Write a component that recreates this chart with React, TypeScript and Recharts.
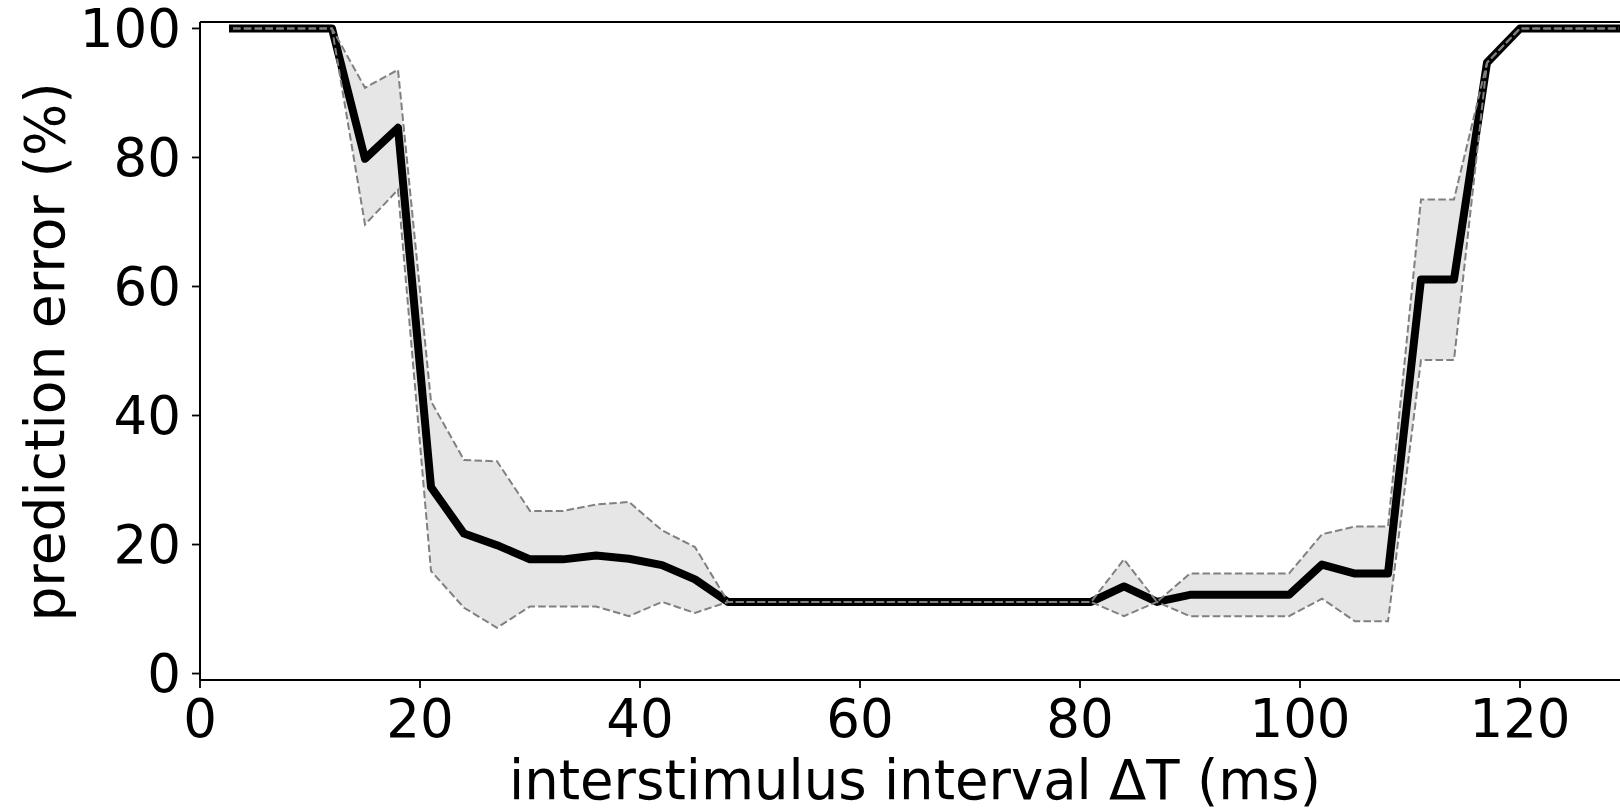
import { ComposedChart, Area, Line, XAxis, YAxis, ReferenceLine } from 'recharts'

// interstimulus interval (ms)
const intervals = [
  3, 6, 9, 12, 15, 18, 21, 24, 27, 30, 33, 36, 39, 42, 45, 48, 51, 54, 57, 60, 63, 66,
  69, 72, 75, 78, 81, 84, 87, 90, 93, 96, 99, 102, 105, 108, 111, 114, 117, 120, 123, 126, 129,
]

// mean prediction error (%)
const meanError = [
  100, 100, 100, 100, 79.8, 84.6, 28.9, 21.7, 19.9, 17.7, 17.7, 18.3, 17.8, 16.8, 14.6, 11.1,
  11.1, 11.1, 11.1, 11.1, 11.1, 11.1, 11.1, 11.1, 11.1, 11.1, 11.1, 13.5, 11.1, 12.2, 12.2,
  12.2, 12.2, 16.9, 15.5, 15.5, 61.1, 61.1, 94.7, 100, 100, 100, 100,
]

// upper edge of spread
const upperError = [
  100, 100, 100, 100, 90.8, 93.6, 42.2, 33.1, 32.9, 25.2, 25.2, 26.2, 26.6, 22.2, 19.6, 11.1,
  11.1, 11.1, 11.1, 11.1, 11.1, 11.1, 11.1, 11.1, 11.1, 11.1, 11.1, 17.7, 11.1, 15.5, 15.5,
  15.5, 15.5, 21.6, 22.8, 22.8, 73.5, 73.5, 94.7, 100, 100, 100, 100,
]

// lower edge of spread
const lowerError = [
  100, 100, 100, 100, 69.6, 75.0, 15.9, 10.2, 7.1, 10.4, 10.4, 10.4, 8.9, 11.1, 9.4, 11.1,
  11.1, 11.1, 11.1, 11.1, 11.1, 11.1, 11.1, 11.1, 11.1, 11.1, 11.1, 8.9, 11.1, 8.9, 8.9,
  8.9, 8.9, 11.6, 8.1, 8.1, 48.6, 48.6, 94.7, 100, 100, 100, 100,
]

const xTicks = [0, 20, 40, 60, 80, 100, 120]
const yTicks = [0, 20, 40, 60, 80, 100]

const data = intervals.map((x, i) => ({
  x,
  mean: meanError[i],
  upper: upperError[i],
  lower: lowerError[i],
  band: [lowerError[i], upperError[i]],
}))

const FONT = '"DejaVu Sans", sans-serif'
const tickStyle = { fill: '#000', fontSize: 53, fontFamily: FONT }

export default function App() {
  return (
    <div style={{ position: 'absolute', left: 0, top: 0, width: 1620, height: 809, overflow: 'hidden', background: '#fff' }}>
      <ComposedChart
        width={1640}
        height={809}
        data={data}
        margin={{ top: 22, right: 10, bottom: 0, left: 0 }}
      >
        <XAxis
          type="number"
          dataKey="x"
          domain={[0, 130]}
          ticks={xTicks}
          interval={0}
          height={129}
          tickSize={8}
          tickMargin={11}
          tick={tickStyle}
          axisLine={{ stroke: '#000', strokeWidth: 2 }}
          tickLine={{ stroke: '#000', strokeWidth: 1.8 }}
          label={{
            content: (props: any) => {
              const vb = props.viewBox
              return (
                <text x={vb.x + vb.width / 2} y={799} textAnchor="middle" fontSize={54.5} fontFamily={FONT} fill="#000">
                  interstimulus interval ΔT (ms)
                </text>
              )
            },
          }}
        />
        <YAxis
          type="number"
          domain={[-1, 101]}
          ticks={yTicks}
          interval={0}
          width={200}
          tickSize={8}
          tickMargin={11}
          tick={tickStyle}
          axisLine={{ stroke: '#000', strokeWidth: 2 }}
          tickLine={{ stroke: '#000', strokeWidth: 1.8 }}
          label={{
            content: (props: any) => {
              const vb = props.viewBox
              const cy = vb.y + vb.height / 2 + 1
              return (
                <text x={64} y={cy} transform={`rotate(-90, 64, ${cy})`} textAnchor="middle" fontSize={55} fontFamily={FONT} fill="#000">
                  prediction error (%)
                </text>
              )
            },
          }}
        />
        <ReferenceLine y={101} stroke="#000" strokeWidth={2} />
        <Area
          type="linear"
          dataKey="band"
          fill="#e6e6e6"
          fillOpacity={1}
          stroke="none"
          isAnimationActive={false}
          activeDot={false}
        />
        <Line
          type="linear"
          dataKey="mean"
          stroke="#000"
          strokeWidth={8}
          strokeLinecap="square"
          strokeLinejoin="round"
          dot={false}
          activeDot={false}
          isAnimationActive={false}
        />
        <Line
          type="linear"
          dataKey="upper"
          stroke="#808080"
          strokeWidth={2}
          strokeDasharray="7.5 3.3"
          dot={false}
          activeDot={false}
          isAnimationActive={false}
        />
        <Line
          type="linear"
          dataKey="lower"
          stroke="#808080"
          strokeWidth={2}
          strokeDasharray="7.5 3.3"
          dot={false}
          activeDot={false}
          isAnimationActive={false}
        />
      </ComposedChart>
    </div>
  )
}
